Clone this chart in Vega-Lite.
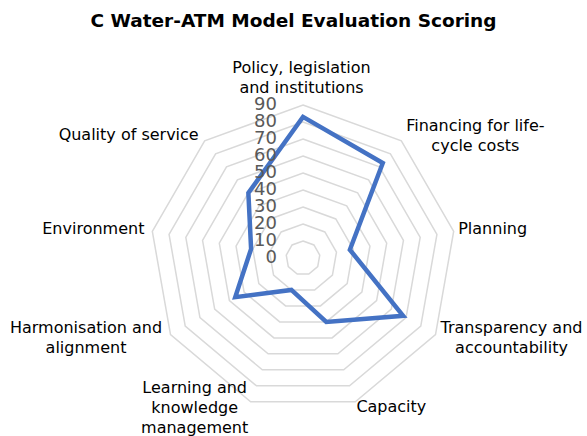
{
  "$schema": "https://vega.github.io/schema/vega-lite/v6.json",
  "width": 587,
  "height": 396,
  "autosize": {"type": "none"},
  "padding": {"left": 0, "top": 40, "right": 0, "bottom": 0},
  "background": "white",
  "title": {"text": "C Water-ATM Model Evaluation Scoring", "font": "DejaVu Sans", "fontSize": 18.5, "fontWeight": "bold", "color": "#000000", "anchor": "middle", "offset": 10},
  "config": {"view": {"stroke": null}, "text": {"font": "DejaVu Sans", "fontSize": 16, "lineHeight": 20, "lineBreak": "\n", "color": "#000000", "align": "center", "baseline": "middle"}},
  "datasets": {
    "scores": [
      {"category": "Policy, legislation\nand institutions", "k": 0, "value": 83},
      {"category": "Financing for life-\ncycle costs", "k": 1, "value": 73},
      {"category": "Planning", "k": 2, "value": 28},
      {"category": "Transparency and\naccountability", "k": 3, "value": 68},
      {"category": "Capacity", "k": 4, "value": 40},
      {"category": "Learning and\nknowledge\nmanagement", "k": 5, "value": 20},
      {"category": "Harmonisation and\nalignment", "k": 6, "value": 46},
      {"category": "Environment", "k": 7, "value": 31},
      {"category": "Quality of service", "k": 8, "value": 50}
    ],
    "levels": [
      {"level": 0, "k": [0, 1, 2, 3, 4, 5, 6, 7, 8]},
      {"level": 10, "k": [0, 1, 2, 3, 4, 5, 6, 7, 8]},
      {"level": 20, "k": [0, 1, 2, 3, 4, 5, 6, 7, 8]},
      {"level": 30, "k": [0, 1, 2, 3, 4, 5, 6, 7, 8]},
      {"level": 40, "k": [0, 1, 2, 3, 4, 5, 6, 7, 8]},
      {"level": 50, "k": [0, 1, 2, 3, 4, 5, 6, 7, 8]},
      {"level": 60, "k": [0, 1, 2, 3, 4, 5, 6, 7, 8]},
      {"level": 70, "k": [0, 1, 2, 3, 4, 5, 6, 7, 8]},
      {"level": 80, "k": [0, 1, 2, 3, 4, 5, 6, 7, 8]},
      {"level": 90, "k": [0, 1, 2, 3, 4, 5, 6, 7, 8]}
    ]
  },
  "layer": [
    {
      "data": {"name": "levels"},
      "transform": [
        {"filter": "datum.level > 0"},
        {"flatten": ["k"]},
        {"calculate": "datum.level * sin(2 * PI * datum.k / 9)", "as": "x"},
        {"calculate": "datum.level * cos(2 * PI * datum.k / 9)", "as": "y"}
      ],
      "mark": {"type": "line", "interpolate": "linear-closed", "color": "#d9d9d9", "strokeWidth": 1.5},
      "encoding": {
        "x": {"field": "x", "type": "quantitative", "scale": {"domain": [-178.24, 167.06], "nice": false, "zero": false}, "axis": null},
        "y": {"field": "y", "type": "quantitative", "scale": {"domain": [-104.7, 128.24], "nice": false, "zero": false}, "axis": null},
        "detail": {"field": "level", "type": "nominal"},
        "order": {"field": "k", "type": "quantitative"}
      }
    },
    {
      "data": {"name": "scores"},
      "transform": [
        {"calculate": "datum.value * sin(2 * PI * datum.k / 9)", "as": "x"},
        {"calculate": "datum.value * cos(2 * PI * datum.k / 9)", "as": "y"}
      ],
      "mark": {"type": "line", "interpolate": "linear-closed", "color": "#4472C4", "strokeWidth": 4.5, "strokeJoin": "miter"},
      "encoding": {
        "x": {"field": "x", "type": "quantitative"},
        "y": {"field": "y", "type": "quantitative"},
        "order": {"field": "k", "type": "quantitative"}
      }
    },
    {
      "data": {"name": "levels"},
      "transform": [{"calculate": "0", "as": "x"}],
      "mark": {"type": "text", "align": "right", "baseline": "middle", "dx": -26, "dy": 0, "font": "DejaVu Sans", "fontSize": 18, "color": "#595959"},
      "encoding": {
        "x": {"field": "x", "type": "quantitative"},
        "y": {"field": "level", "type": "quantitative"},
        "text": {"field": "level", "type": "quantitative"}
      }
    },
    {
      "data": {"name": "scores"},
      "transform": [
        {"calculate": "90 * sin(2 * PI * datum.k / 9)", "as": "x"},
        {"calculate": "90 * cos(2 * PI * datum.k / 9)", "as": "y"}
      ],
      "encoding": {
        "x": {"field": "x", "type": "quantitative"},
        "y": {"field": "y", "type": "quantitative"},
        "text": {"field": "category", "type": "nominal"}
      },
      "layer": [
        {"transform": [{"filter": "datum.k == 0"}], "mark": {"type": "text", "dx": -1.5, "dy": -37}},
        {"transform": [{"filter": "datum.k == 1"}], "mark": {"type": "text", "dx": 74, "dy": -15}},
        {"transform": [{"filter": "datum.k == 2"}], "mark": {"type": "text", "dx": 39, "dy": -2}},
        {"transform": [{"filter": "datum.k == 3"}], "mark": {"type": "text", "dx": 76, "dy": -6.5}},
        {"transform": [{"filter": "datum.k == 4"}], "mark": {"type": "text", "dx": 36, "dy": 5}},
        {"transform": [{"filter": "datum.k == 5"}], "mark": {"type": "text", "dx": -56, "dy": -14}},
        {"transform": [{"filter": "datum.k == 6"}], "mark": {"type": "text", "dx": -84.5, "dy": -6.5}},
        {"transform": [{"filter": "datum.k == 7"}], "mark": {"type": "text", "dx": -59, "dy": -2}},
        {"transform": [{"filter": "datum.k == 8"}], "mark": {"type": "text", "dx": -76, "dy": -6}}
      ]
    }
  ]
}
